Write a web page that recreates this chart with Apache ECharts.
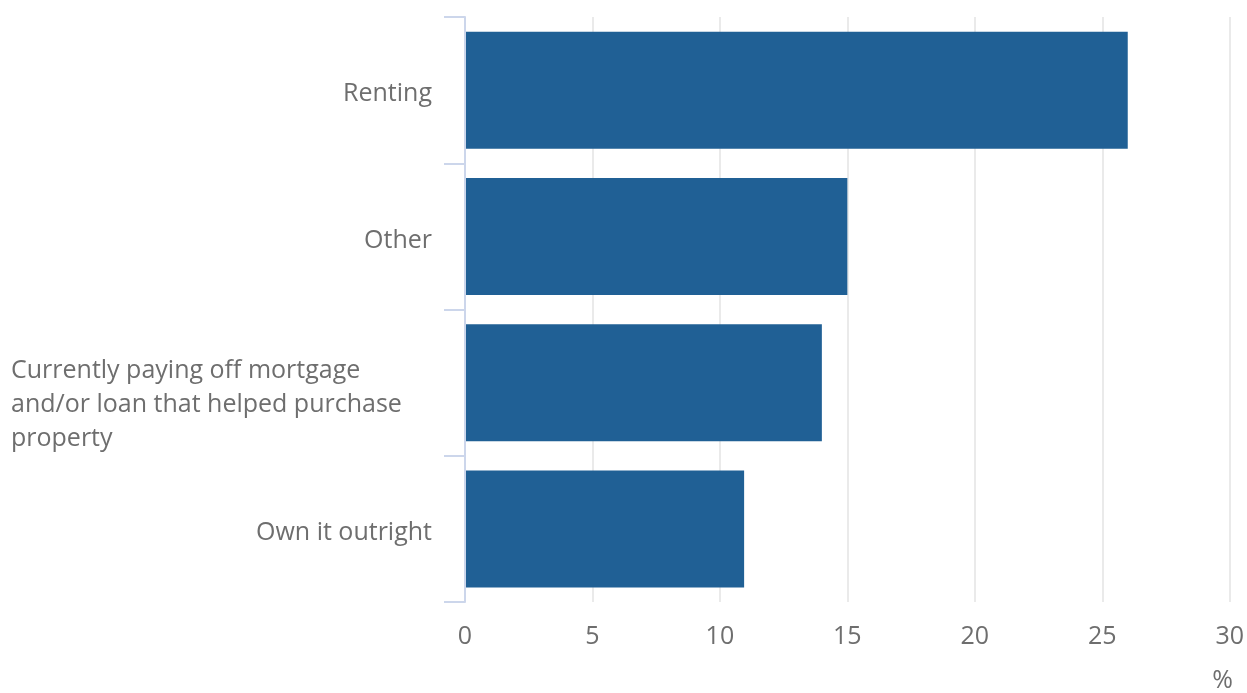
<!DOCTYPE html>
<html><head><meta charset="utf-8">
<script src="https://cdn.jsdelivr.net/npm/echarts@6/dist/echarts.min.js"></script>
<style>html,body{margin:0;padding:0;background:#fff}#c{width:1247px;height:693px}</style>
</head><body><div id="c"></div>
<script>
const categories = ["Renting", "Other", "Currently paying off mortgage\nand/or loan that helped purchase\nproperty", "Own it outright"];
const values = [26, 15, 14, 10.95];
const xTicks = [0, 5, 10, 15, 20, 25, 30];
const unitLabel = "%";

const chart = echarts.init(document.getElementById('c'));
const txt = '#6e6e6e';
chart.setOption({
  animation: false,
  textStyle: {fontFamily: 'Open Sans'},
  grid: {left: 465, right: 13, top: 17, bottom: 91, containLabel: false},
  xAxis: {
    type: 'value', min: xTicks[0], max: xTicks[xTicks.length-1], interval: 5,
    axisLine: {show: false}, axisTick: {show: false},
    splitLine: {lineStyle: {color: '#e3e3e3', width: 1.5}},
    axisLabel: {color: txt, fontSize: 25, margin: 22, fontFamily: 'Open Sans'}
  },
  yAxis: {
    type: 'category', inverse: true, z: 10,
    data: categories.map(c => c.indexOf('\n') < 0
      ? {value: c, textStyle: {padding: [8, 0, 0, 0]}}
      : {value: c, textStyle: {padding: [44, 0, 0, 0]}}),
    axisLine: {show: true, lineStyle: {color: '#ccd6eb', width: 2}},
    axisTick: {show: true, alignWithLabel: false, length: 21, lineStyle: {color: '#ccd6eb', width: 2}},
    axisLabel: {
      color: txt, fontSize: 25, margin: 33, lineHeight: 34, fontFamily: 'Open Sans',
      formatter: function (v) {
        if (v.indexOf('\n') < 0) return v;
        return v.split('\n').map(l => '{m|' + l + '}').join('\n');
      },
      rich: {m: {width: 421, align: 'left', color: txt, fontSize: 25, lineHeight: 34, fontFamily: 'Open Sans'}}
    }
  },
  series: [{
    type: 'bar', data: values, barCategoryGap: '20%',
    itemStyle: {color: '#206095'}
  }],
  graphic: [{
    type: 'text', right: 1247 - 1233, top: 668,
    style: {text: unitLabel, fill: txt, font: '25px "Open Sans"'}
  }]
});
</script></body></html>
